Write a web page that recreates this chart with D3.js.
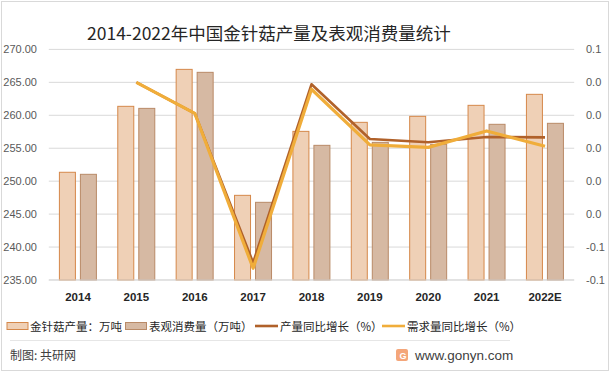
<!DOCTYPE html>
<html><head><meta charset="utf-8">
<script src="https://cdn.jsdelivr.net/npm/d3@7"></script>
<style>
html,body{margin:0;padding:0;background:#fff;}
svg{display:block;}
</style>
</head><body>
<svg id="c" width="610" height="372"></svg>
<script>
const categories = ["2014","2015","2016","2017","2018","2019","2020","2021","2022E"];
const production = [251.35, 261.36, 266.97, 247.85, 257.56, 258.93, 259.84, 261.51, 263.18];
const consumption = [251.04, 261.05, 266.52, 246.79, 255.44, 255.89, 255.59, 258.63, 258.78];
const productionGrowth = [null, 0.040, 0.0212, -0.0695, 0.0388, 0.0056, 0.0036, 0.0068, 0.0066];
const demandGrowth = [null, 0.040, 0.0212, -0.0729, 0.0358, 0.0020, 0.0005, 0.0105, 0.0012];
const leftTicks = [235, 240, 245, 250, 255, 260, 265, 270];
const rightTicks = [-0.08, -0.06, -0.04, -0.02, 0, 0.02, 0.04, 0.06];
const seriesNames = ["金针菇产量：万吨", "表观消费量（万吨）", "产量同比增长（%）", "需求量同比增长（%）"];
const title = "2014-2022年中国金针菇产量及表观消费量统计";

const svg = d3.select("#c");
const W = 610, H = 372;
const plot = {left: 48.8, right: 574.2, top: 49.4, bottom: 280};

// outer border
svg.append("rect").attr("x", 1.5).attr("y", 1.5).attr("width", W - 3).attr("height", H - 3)
  .attr("fill", "#fff").attr("stroke", "#d9d9d9").attr("stroke-width", 1);

svg.append("text").attr("x", 87).attr("y", 40)
  .attr("font-family", "'Noto Sans CJK SC', sans-serif").attr("font-size", 17.5)
  .attr("fill", "#262626").text(title);

const x0 = d3.scaleBand().domain(categories).range([plot.left, plot.right]).padding(0);
const x1 = d3.scaleBand().domain(["p", "c"]).range([10.6, 47.6]).paddingInner(5 / 21).paddingOuter(0);
const yL = d3.scaleLinear().domain([235, 270]).range([plot.bottom, plot.top]);
const yR = d3.scaleLinear().domain([-0.08, 0.06]).range([plot.bottom, plot.top]);

// grid
svg.append("g").selectAll("line").data(leftTicks).join("line")
  .attr("x1", plot.left).attr("x2", plot.right)
  .attr("y1", d => yL(d)).attr("y2", d => yL(d))
  .attr("stroke", "#d9d9d9").attr("stroke-width", 1);

// left axis
const axL = svg.append("g").attr("transform", `translate(37,0)`)
  .call(d3.axisLeft(yL).tickValues(leftTicks).tickSize(0).tickPadding(0).tickFormat(d => d.toFixed(2)));
axL.select(".domain").remove();
axL.selectAll("text").attr("font-family", "'Liberation Sans', Arial, sans-serif").attr("font-size", 11).attr("fill", "#595959");

// right axis
const fmtR = d => { let s = (Math.round(d * 10) / 10).toFixed(1); if (s === "-0.0") s = "0.0"; return s; };
const axR = svg.append("g").attr("transform", `translate(586,0)`)
  .call(d3.axisRight(yR).tickValues(rightTicks).tickSize(0).tickPadding(0).tickFormat(fmtR));
axR.select(".domain").remove();
axR.selectAll("text").attr("font-family", "'Liberation Sans', Arial, sans-serif").attr("font-size", 11).attr("fill", "#595959");

// bars
const barData = categories.map((c, i) => ({c, p: production[i], v: consumption[i]}));
const g = svg.append("g");
g.selectAll("rect.p").data(barData).join("rect").attr("class", "p")
  .attr("x", d => x0(d.c) + x1("p")).attr("width", x1.bandwidth())
  .attr("y", d => yL(d.p)).attr("height", d => yL(235) - yL(d.p))
  .attr("fill", "#efd0b6").attr("stroke", "#d5884a").attr("stroke-width", 1);
g.selectAll("rect.c").data(barData).join("rect").attr("class", "c")
  .attr("x", d => x0(d.c) + x1("c")).attr("width", x1.bandwidth())
  .attr("y", d => yL(d.v)).attr("height", d => yL(235) - yL(d.v))
  .attr("fill", "#d6b9a3").attr("stroke", "#b98a67").attr("stroke-width", 1);

// x axis line
svg.append("line").attr("x1", plot.left).attr("x2", plot.right).attr("y1", plot.bottom).attr("y2", plot.bottom)
  .attr("stroke", "#d9d9d9");

// x labels
const axB = svg.append("g").attr("transform", `translate(0,${plot.bottom})`)
  .call(d3.axisBottom(x0).tickSize(0).tickPadding(13));
axB.select(".domain").remove();
axB.selectAll("text").attr("font-family", "'Liberation Sans', Arial, sans-serif").attr("font-size", 11.5)
  .attr("font-weight", "bold").attr("fill", "#262626");

// lines
const cx = c => x0(c) + x0.bandwidth() / 2;
const line = arr => d3.line().defined((d, i) => arr[i] !== null)
  .x((d, i) => cx(categories[i])).y((d, i) => yR(arr[i]))(arr);
svg.append("path").attr("d", line(productionGrowth)).attr("fill", "none")
  .attr("stroke", "#b0612a").attr("stroke-width", 2.6).attr("stroke-linejoin", "round");
svg.append("path").attr("d", line(demandGrowth)).attr("fill", "none")
  .attr("stroke", "#f0ad3a").attr("stroke-width", 3.2).attr("stroke-linejoin", "round");

// legend
const lg = svg.append("g").attr("font-family", "'Noto Sans CJK SC', sans-serif").attr("font-size", 11.5).attr("fill", "#262626");
const legendItems = [
  {type: "rect", x: 7, tx: 30, fill: "#efd0b6", stroke: "#d5884a"},
  {type: "rect", x: 125.5, tx: 149, fill: "#d6b9a3", stroke: "#b98a67"},
  {type: "line", x: 255, tx: 280, stroke: "#b0612a"},
  {type: "line", x: 382, tx: 407, stroke: "#f0ad3a"}
];
legendItems.forEach((it, i) => {
  if (it.type === "rect") {
    lg.append("rect").attr("x", it.x).attr("y", 322.5).attr("width", 21).attr("height", 7)
      .attr("fill", it.fill).attr("stroke", it.stroke);
  } else {
    lg.append("line").attr("x1", it.x).attr("x2", it.x + 23).attr("y1", 326).attr("y2", 326)
      .attr("stroke", it.stroke).attr("stroke-width", 2.6);
  }
  lg.append("text").attr("x", it.tx).attr("y", 330.5).text(seriesNames[i]);
});

// footer
svg.append("line").attr("x1", 10).attr("x2", 510).attr("y1", 340.5).attr("y2", 340.5).attr("stroke", "#e6e6e6");
svg.append("text").attr("x", 10).attr("y", 360).attr("font-family", "'Noto Sans CJK SC', sans-serif")
  .attr("font-size", 12).attr("fill", "#404040").text("制图: 共研网");
svg.append("rect").attr("x", 396).attr("y", 349).attr("width", 12).attr("height", 12).attr("rx", 2).attr("fill", "#f4a67a");
svg.append("text").attr("x", 399.5).attr("y", 359).attr("font-family", "'Liberation Sans', Arial, sans-serif")
  .attr("font-size", 9).attr("font-weight", "bold").attr("fill", "#fff").text("G");
svg.append("text").attr("x", 415).attr("y", 359.5).attr("font-family", "'Liberation Sans', Arial, sans-serif")
  .attr("font-size", 13.5).attr("fill", "#404040").text("www.gonyn.com");
</script>
</body></html>
